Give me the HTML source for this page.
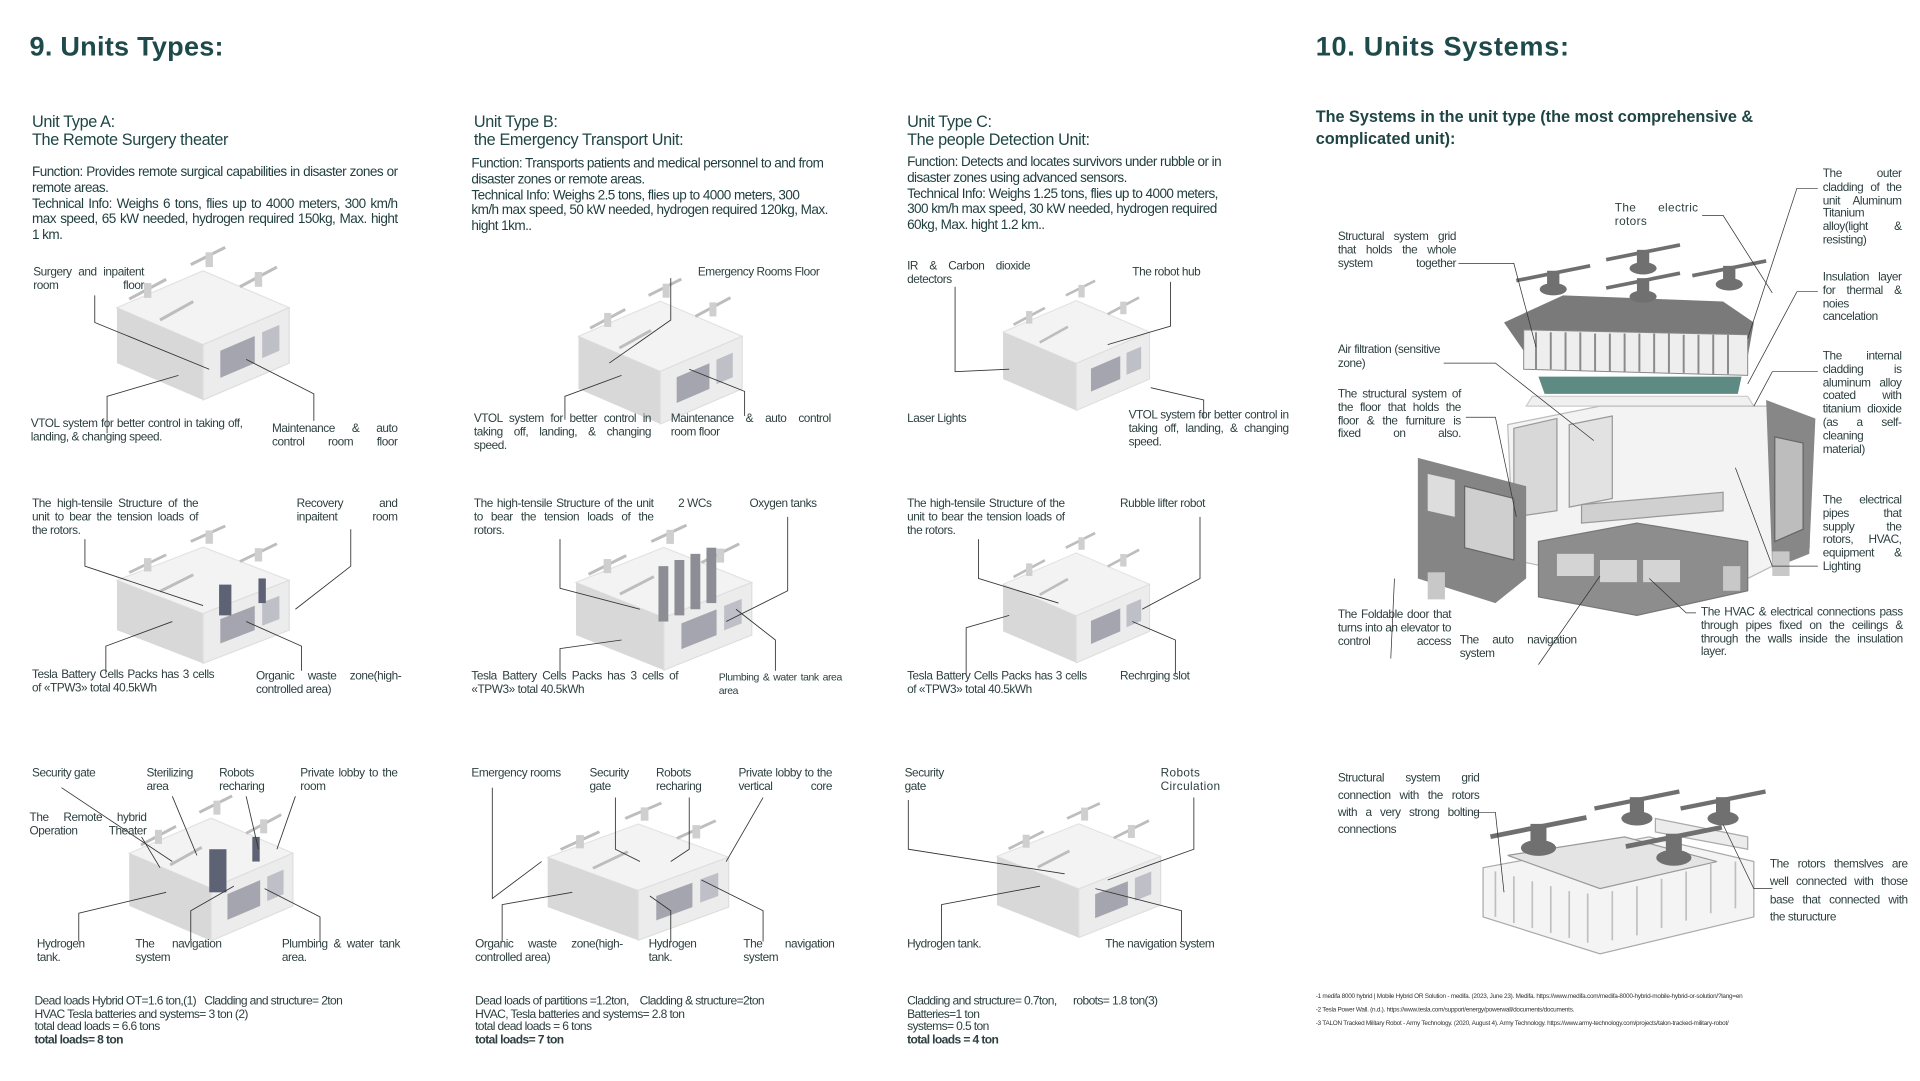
<!DOCTYPE html>
<html><head><meta charset="utf-8">
<style>
html,body{margin:0;padding:0;background:#fff;}
body{width:1920px;height:1080px;overflow:hidden;position:relative;}
#w{position:absolute;left:0;top:0;width:1560px;height:878px;transform:scale(1.23077);transform-origin:0 0;font-family:"Liberation Sans",sans-serif;color:#2d3f3f;}
.t{position:absolute;font-size:9.6px;line-height:10.8px;letter-spacing:-0.35px;text-align:justify;text-align-last:justify;}
.l{text-align-last:left;}
.h1{position:absolute;font-size:22px;font-weight:bold;color:#1f4a4b;letter-spacing:0.2px;}
.h2{position:absolute;font-size:13.2px;line-height:15px;color:#1f4545;letter-spacing:-0.3px;}
.f{position:absolute;font-size:11px;line-height:12.8px;color:#1f3d3d;letter-spacing:-0.45px;text-align:justify;}
.ld{position:absolute;font-size:9.8px;line-height:10.6px;letter-spacing:-0.5px;color:#2d3f3f;}
.fn{position:absolute;font-size:5.2px;line-height:11px;letter-spacing:-0.2px;color:#333;white-space:nowrap;}
svg{position:absolute;left:0;top:0;}
</style></head><body><div id="w">
<svg width="1560" height="878" viewBox="0 0 1560 878">
<defs>
<g id="u">
<polygon points="0,35 70,5 140,35 70,65" fill="#f3f3f3" stroke="#e2e2e2"/>
<polygon points="0,35 70,65 70,110 0,80" fill="#d8d8d8"/>
<polygon points="70,65 140,35 140,80 70,110" fill="#ececec" stroke="#dedede"/>
<polygon points="84,70 112,58 112,80 84,92" fill="#a5a5b0"/>
<polygon points="118,55 132,49 132,70 118,76" fill="#bfbfc8"/>
<g stroke="#bdbdbd" stroke-width="2.5"><line x1="10" y1="28" x2="40" y2="12"/><line x1="60" y1="0" x2="88" y2="-14"/><line x1="100" y1="18" x2="130" y2="2"/><line x1="35" y1="45" x2="62" y2="30"/></g>
<g fill="#cfcfcf"><rect x="22" y="15" width="6" height="12"/><rect x="72" y="-10" width="6" height="12"/><rect x="112" y="6" width="6" height="12"/></g>
</g>
<g id="rot"><line x1="-30" y1="6" x2="30" y2="-6" stroke="#6f6f6f" stroke-width="3"/><rect x="-5" y="-2" width="10" height="14" fill="#707070"/><ellipse cx="0" cy="13" rx="11" ry="5" fill="#707070"/></g>
</defs>
<use href="#u" transform="translate(95,215)"/>
<use href="#u" transform="translate(470,240) scale(0.95)"/>
<use href="#u" transform="translate(815,240) scale(0.85)"/>
<use href="#u" transform="translate(95,440) scale(1,0.9)"/>
<use href="#u" transform="translate(468,440) scale(1.02,0.95)"/>
<use href="#u" transform="translate(815,445) scale(0.85)"/>
<use href="#u" transform="translate(105,660) scale(0.95)"/>
<use href="#u" transform="translate(445,665) scale(1.05,0.9)"/>
<use href="#u" transform="translate(810,665) scale(0.95,0.88)"/>
<g fill="#5e6275"><rect x="178" y="475" width="10" height="25"/><rect x="210" y="470" width="6" height="20"/><rect x="170" y="690" width="14" height="35"/><rect x="205" y="680" width="6" height="20"/></g>
<g fill="#8d8d95"><rect x="535" y="460" width="8" height="45"/><rect x="548" y="455" width="8" height="45"/><rect x="561" y="450" width="8" height="45"/><rect x="574" y="445" width="8" height="45"/></g>
<g stroke="#333" stroke-width="0.7" fill="none">
<polyline points="77,240 77,262 170,300"/><polyline points="87,352 87,322 145,305"/><polyline points="255,342 255,320 200,292"/>
<polyline points="545,226 545,260 495,295"/><polyline points="459,341 459,322 505,305"/><polyline points="605,338 605,318 560,300"/>
<polyline points="776,233 776,302 820,300"/><polyline points="951,229 951,265 900,280"/><polyline points="978,340 978,325 935,315"/>
<polyline points="69,438 69,460 165,492"/><polyline points="285,430 285,460 240,495"/><polyline points="86,548 86,525 140,505"/><polyline points="245,545 245,525 200,505"/>
<polyline points="455,438 455,478 520,495"/><polyline points="640,420 640,480 590,505"/><polyline points="455,548 455,527 505,520"/><polyline points="630,545 630,520 598,495"/>
<polyline points="795,438 795,470 860,490"/><polyline points="975,420 975,470 928,495"/><polyline points="785,548 785,510 820,500"/><polyline points="955,548 955,520 920,505"/>
<polyline points="50,640 140,700"/><polyline points="140,647 160,695"/><polyline points="200,647 210,690"/><polyline points="240,647 225,690"/><polyline points="115,680 130,705"/><polyline points="64,765 64,742 135,725"/><polyline points="155,765 155,740 190,720"/><polyline points="260,765 260,745 215,722"/>
<polyline points="400,640 400,730 440,700"/><polyline points="500,648 500,690 520,700"/><polyline points="560,648 560,690 545,700"/><polyline points="620,648 590,700"/><polyline points="408,765 408,735 465,725"/><polyline points="545,765 545,740 528,728"/><polyline points="620,765 620,740 570,715"/>
<polyline points="738,650 738,690 865,710"/><polyline points="970,648 970,690 900,715"/><polyline points="765,765 765,735 845,720"/><polyline points="960,765 960,740 890,722"/>
</g>
<!-- right big exploded drawing -->
<g>
<polygon points="1222,262 1270,240 1400,245 1425,262 1420,290 1240,288" fill="#7a7a7a"/>
<polygon points="1240,288 1420,290 1420,298 1240,296" fill="#5a5a5a"/>
<use href="#rot" transform="translate(1262,222)"/><use href="#rot" transform="translate(1335,205)"/><use href="#rot" transform="translate(1405,218)"/><use href="#rot" transform="translate(1335,228)"/>
<polygon points="1238,268 1420,272 1420,305 1238,300" fill="#eeeeee" stroke="#888" stroke-width="0.8"/>
<g stroke="#8a8a8a" stroke-width="1.6">
<line x1="1248" y1="270" x2="1248" y2="300"/><line x1="1260" y1="270" x2="1260" y2="300"/><line x1="1272" y1="270" x2="1272" y2="301"/><line x1="1284" y1="270" x2="1284" y2="301"/><line x1="1296" y1="271" x2="1296" y2="302"/><line x1="1308" y1="271" x2="1308" y2="302"/><line x1="1320" y1="271" x2="1320" y2="302"/><line x1="1332" y1="271" x2="1332" y2="302"/><line x1="1344" y1="271" x2="1344" y2="303"/><line x1="1356" y1="271" x2="1356" y2="303"/><line x1="1368" y1="272" x2="1368" y2="303"/><line x1="1380" y1="272" x2="1380" y2="304"/><line x1="1392" y1="272" x2="1392" y2="304"/><line x1="1404" y1="272" x2="1404" y2="304"/></g>
<polygon points="1250,306 1415,306 1412,320 1255,320" fill="#5d8a82"/>
<polygon points="1245,322 1420,322 1425,330 1240,330" fill="#f0f0f0" stroke="#ccc"/>
<polygon points="1225,345 1300,330 1440,330 1470,345 1470,445 1420,470 1300,470 1230,455" fill="#f3f3f3" stroke="#bbb"/>
<polygon points="1230,348 1265,340 1265,415 1230,420" fill="#d8d8d8" stroke="#999"/>
<polygon points="1275,345 1310,338 1310,405 1275,412" fill="#e2e2e2" stroke="#999"/>
<polygon points="1285,410 1400,400 1400,415 1285,425" fill="#d0d0d0" stroke="#999"/>
<polygon points="1435,325 1475,340 1470,450 1440,462" fill="#878787"/>
<polygon points="1442,355 1465,360 1465,430 1442,440" fill="#bdbdbd" stroke="#666"/>
<polygon points="1152,372 1240,395 1240,470 1215,490 1152,470" fill="#858585"/>
<polygon points="1190,395 1230,405 1230,455 1190,445" fill="#cfcfcf" stroke="#666"/>
<polygon points="1160,385 1182,390 1182,420 1160,415" fill="#ddd"/>
<polygon points="1250,440 1330,425 1420,440 1420,480 1330,500 1250,485" fill="#8d8d8d" stroke="#777"/>
<g fill="#d4d4d4"><rect x="1265" y="450" width="30" height="18"/><rect x="1300" y="455" width="30" height="18"/><rect x="1335" y="455" width="30" height="18"/></g>
<g fill="#c8c8c8"><rect x="1160" y="465" width="14" height="22"/><rect x="1400" y="460" width="14" height="20"/><rect x="1440" y="448" width="14" height="20"/></g>
<!-- bottom right drone -->
<polygon points="1205,705 1340,680 1425,700 1425,745 1300,775 1205,745" fill="#f4f4f4" stroke="#aaa"/>
<g stroke="#c0c0c0" stroke-width="1.4"><line x1="1215" y1="708" x2="1215" y2="745"/><line x1="1230" y1="712" x2="1230" y2="750"/><line x1="1245" y1="716" x2="1245" y2="754"/><line x1="1260" y1="720" x2="1260" y2="758"/><line x1="1275" y1="724" x2="1275" y2="762"/><line x1="1290" y1="726" x2="1290" y2="766"/><line x1="1310" y1="724" x2="1310" y2="764"/><line x1="1330" y1="720" x2="1330" y2="760"/><line x1="1350" y1="714" x2="1350" y2="754"/><line x1="1370" y1="708" x2="1370" y2="748"/><line x1="1390" y1="702" x2="1390" y2="742"/><line x1="1410" y1="700" x2="1410" y2="738"/></g>
<polygon points="1225,695 1320,680 1395,700 1300,722" fill="#e4e4e4" stroke="#999"/>
<polygon points="1345,665 1420,680 1420,690 1345,676" fill="#ececec" stroke="#aaa"/>
<use href="#rot" transform="translate(1250,672) scale(1.3)"/><use href="#rot" transform="translate(1360,680) scale(1.3)"/><use href="#rot" transform="translate(1330,650) scale(1.15)"/><use href="#rot" transform="translate(1400,650) scale(1.15)"/>
</g>
<g stroke="#333" stroke-width="0.6" fill="none">
<polyline points="1383,175 1400,175 1440,238"/><polyline points="1477,153 1460,153 1420,275"/><polyline points="1185,214 1230,214 1248,282"/><polyline points="1477,237 1460,237 1420,312"/>
<polyline points="1173,295 1215,295 1295,358"/><polyline points="1191,339 1215,339 1232,420"/><polyline points="1477,302 1440,302 1425,330"/><polyline points="1477,460 1440,460 1410,380"/>
<polyline points="1130,535 1133,470"/><polyline points="1250,540 1300,468"/><polyline points="1378,498 1370,498 1340,470"/>
<polyline points="1198,660 1215,660 1222,725"/><polyline points="1440,722 1425,722 1400,670"/>
</g>
</svg>

<div class="h1" style="left:24px;top:25px;">9. Units Types:</div>
<div class="h1" style="left:1069px;top:25px;letter-spacing:0.6px;">10. Units Systems:</div>

<div class="h2" style="left:26px;top:91px;">Unit Type A:<br>The Remote Surgery theater</div>
<div class="h2" style="left:385px;top:91px;">Unit Type B:<br>the Emergency Transport Unit:</div>
<div class="h2" style="left:737px;top:91px;">Unit Type C:<br>The people Detection Unit:</div>
<div class="h2" style="left:1069px;top:86px;font-weight:bold;width:360px;line-height:18px;letter-spacing:0;">The Systems in the unit type (the most comprehensive &amp; complicated unit):</div>

<div class="f" style="left:26px;top:134px;width:297px;">Function: Provides remote surgical capabilities in disaster zones or remote areas.<br>Technical Info: Weighs 6 tons, flies up to 4000 meters, 300 km/h max speed, 65 kW needed, hydrogen required 150kg, Max. hight 1 km.</div>
<div class="f" style="left:383px;top:127px;width:290px;text-align:left;">Function: Transports patients and medical personnel to and from disaster zones or remote areas.<br>Technical Info: Weighs 2.5 tons, flies up to 4000 meters, 300 km/h max speed, 50 kW needed, hydrogen required 120kg, Max. hight 1km..</div>
<div class="f" style="left:737px;top:126px;width:265px;text-align:left;">Function: Detects and locates survivors under rubble or in disaster zones using advanced sensors.<br>Technical Info: Weighs 1.25 tons, flies up to 4000 meters, 300 km/h max speed, 30 kW needed, hydrogen required 60kg, Max. hight 1.2 km..</div>

<div class="t" style="left:27px;top:217px;width:90px;">Surgery and inpaitent room floor</div>
<div class="t l" style="left:25px;top:340px;width:172px;">VTOL system for better control in taking off, landing, &amp; changing speed.</div>
<div class="t" style="left:221px;top:344px;width:102px;">Maintenance &amp; auto control room floor</div>
<div class="t l" style="left:567px;top:217px;">Emergency Rooms Floor</div>
<div class="t l" style="left:385px;top:336px;width:144px;">VTOL system for better control in taking off, landing, &amp; changing speed.</div>
<div class="t l" style="left:545px;top:336px;width:130px;">Maintenance &amp; auto control room floor</div>
<div class="t l" style="left:737px;top:212px;width:100px;">IR &amp; Carbon dioxide detectors</div>
<div class="t l" style="left:920px;top:217px;">The robot hub</div>
<div class="t l" style="left:737px;top:336px;">Laser Lights</div>
<div class="t" style="left:917px;top:333px;width:130px;">VTOL system for better control in taking off, landing, &amp; changing speed.</div>

<div class="t l" style="left:26px;top:405px;width:135px;">The high-tensile Structure of the unit to bear the tension loads of the rotors.</div>
<div class="t" style="left:241px;top:405px;width:82px;">Recovery and inpaitent room</div>
<div class="t l" style="left:26px;top:544px;width:148px;">Tesla Battery Cells Packs has 3 cells of «TPW3» total 40.5kWh</div>
<div class="t l" style="left:208px;top:545px;width:118px;">Organic waste zone(high-controlled area)</div>
<div class="t l" style="left:385px;top:405px;width:146px;">The high-tensile Structure of the unit to bear the tension loads of the rotors.</div>
<div class="t l" style="left:551px;top:405px;">2 WCs</div>
<div class="t l" style="left:609px;top:405px;">Oxygen tanks</div>
<div class="t l" style="left:383px;top:545px;width:168px;">Tesla Battery Cells Packs has 3 cells of «TPW3» total 40.5kWh</div>
<div class="t l" style="left:584px;top:545px;width:100px;font-size:8.5px;">Plumbing &amp; water tank area area</div>
<div class="t l" style="left:737px;top:405px;width:128px;">The high-tensile Structure of the unit to bear the tension loads of the rotors.</div>
<div class="t l" style="left:910px;top:405px;">Rubble lifter robot</div>
<div class="t l" style="left:737px;top:545px;width:146px;">Tesla Battery Cells Packs has 3 cells of «TPW3» total 40.5kWh</div>
<div class="t l" style="left:910px;top:545px;">Rechrging slot</div>

<div class="t l" style="left:26px;top:624px;">Security gate</div>
<div class="t" style="left:119px;top:624px;width:42px;">Sterilizing area</div>
<div class="t" style="left:178px;top:624px;width:48px;">Robots recharing</div>
<div class="t" style="left:244px;top:624px;width:79px;">Private lobby to the room</div>
<div class="t" style="left:24px;top:660px;width:95px;">The Remote hybrid Operation Theater</div>
<div class="t" style="left:30px;top:763px;width:47px;">Hydrogen tank.</div>
<div class="t" style="left:110px;top:763px;width:70px;">The navigation system</div>
<div class="t" style="left:229px;top:763px;width:96px;">Plumbing &amp; water tank area.</div>
<div class="t l" style="left:383px;top:624px;">Emergency rooms</div>
<div class="t" style="left:479px;top:624px;width:35px;">Security gate</div>
<div class="t" style="left:533px;top:624px;width:47px;">Robots recharing</div>
<div class="t" style="left:600px;top:624px;width:76px;">Private lobby to the vertical core</div>
<div class="t l" style="left:386px;top:763px;width:120px;">Organic waste zone(high-controlled area)</div>
<div class="t l" style="left:527px;top:763px;width:50px;">Hydrogen tank.</div>
<div class="t" style="left:604px;top:763px;width:74px;">The navigation system</div>
<div class="t l" style="left:735px;top:624px;width:40px;">Security gate</div>
<div class="t l" style="left:943px;top:624px;width:62px;letter-spacing:0.3px;">Robots Circulation</div>
<div class="t l" style="left:737px;top:763px;">Hydrogen tank.</div>
<div class="t l" style="left:898px;top:763px;">The navigation system</div>

<div class="ld" style="left:28px;top:809px;">Dead loads Hybrid OT=1.6 ton,(1)&nbsp;&nbsp; Cladding and structure= 2ton<br>HVAC Tesla batteries and systems= 3 ton (2)<br>total dead loads = 6.6 tons<br><b>total loads= 8 ton</b></div>
<div class="ld" style="left:386px;top:809px;">Dead loads of partitions =1.2ton,&nbsp;&nbsp;&nbsp; Cladding &amp; structure=2ton<br>HVAC, Tesla batteries and systems= 2.8 ton<br>total dead loads = 6 tons<br><b>total loads= 7 ton</b></div>
<div class="ld" style="left:737px;top:809px;">Cladding and structure= 0.7ton,&nbsp;&nbsp;&nbsp;&nbsp;&nbsp; robots= 1.8 ton(3)<br>Batteries=1 ton<br>systems= 0.5 ton<br><b>total loads = 4 ton</b></div>

<div class="t" style="left:1312px;top:165px;width:68px;letter-spacing:0.3px;">The electric rotors</div>
<div class="t" style="left:1087px;top:188px;width:96px;">Structural system grid that holds the whole system together</div>
<div class="t" style="left:1481px;top:137px;width:64px;">The outer cladding of the unit Aluminum Titanium alloy(light &amp; resisting)</div>
<div class="t" style="left:1481px;top:221px;width:64px;">Insulation layer for thermal &amp; noies cancelation</div>
<div class="t" style="left:1087px;top:280px;width:83px;">Air filtration (sensitive zone)</div>
<div class="t" style="left:1087px;top:316px;width:100px;">The structural system of the floor that holds the floor &amp; the furniture is fixed on also.</div>
<div class="t" style="left:1481px;top:285px;width:64px;">The internal cladding is aluminum alloy coated with titanium dioxide (as a self-cleaning material)</div>
<div class="t" style="left:1481px;top:402px;width:64px;">The electrical pipes that supply the rotors, HVAC, equipment &amp; Lighting</div>
<div class="t" style="left:1087px;top:495px;width:92px;">The Foldable door that turns into an elevator to control access</div>
<div class="t l" style="left:1186px;top:516px;width:95px;">The auto navigation system</div>
<div class="t" style="left:1382px;top:493px;width:164px;">The HVAC &amp; electrical connections pass through pipes fixed on the ceilings &amp; through the walls inside the insulation layer.</div>
<div class="t l" style="left:1087px;top:626px;width:115px;line-height:14px;">Structural system grid connection with the rotors with a very strong bolting connections</div>
<div class="t l" style="left:1438px;top:696px;width:112px;line-height:14.4px;">The rotors themslves are well connected with those base that connected with the sturucture</div>

<div class="fn" style="left:1069px;top:805px;">-1 medifa 8000 hybrid | Mobile Hybrid OR Solution - medifa. (2023, June 23). Medifa. https://www.medifa.com/medifa-8000-hybrid-mobile-hybrid-or-solution/?lang=en<br>-2 Tesla Power Wall. (n.d.). https://www.tesla.com/support/energy/powerwall/documents/documents.<br>-3 TALON Tracked Military Robot - Army Technology. (2020, August 4). Army Technology. https://www.army-technology.com/projects/talon-tracked-military-robot/</div>
</div></body></html>
